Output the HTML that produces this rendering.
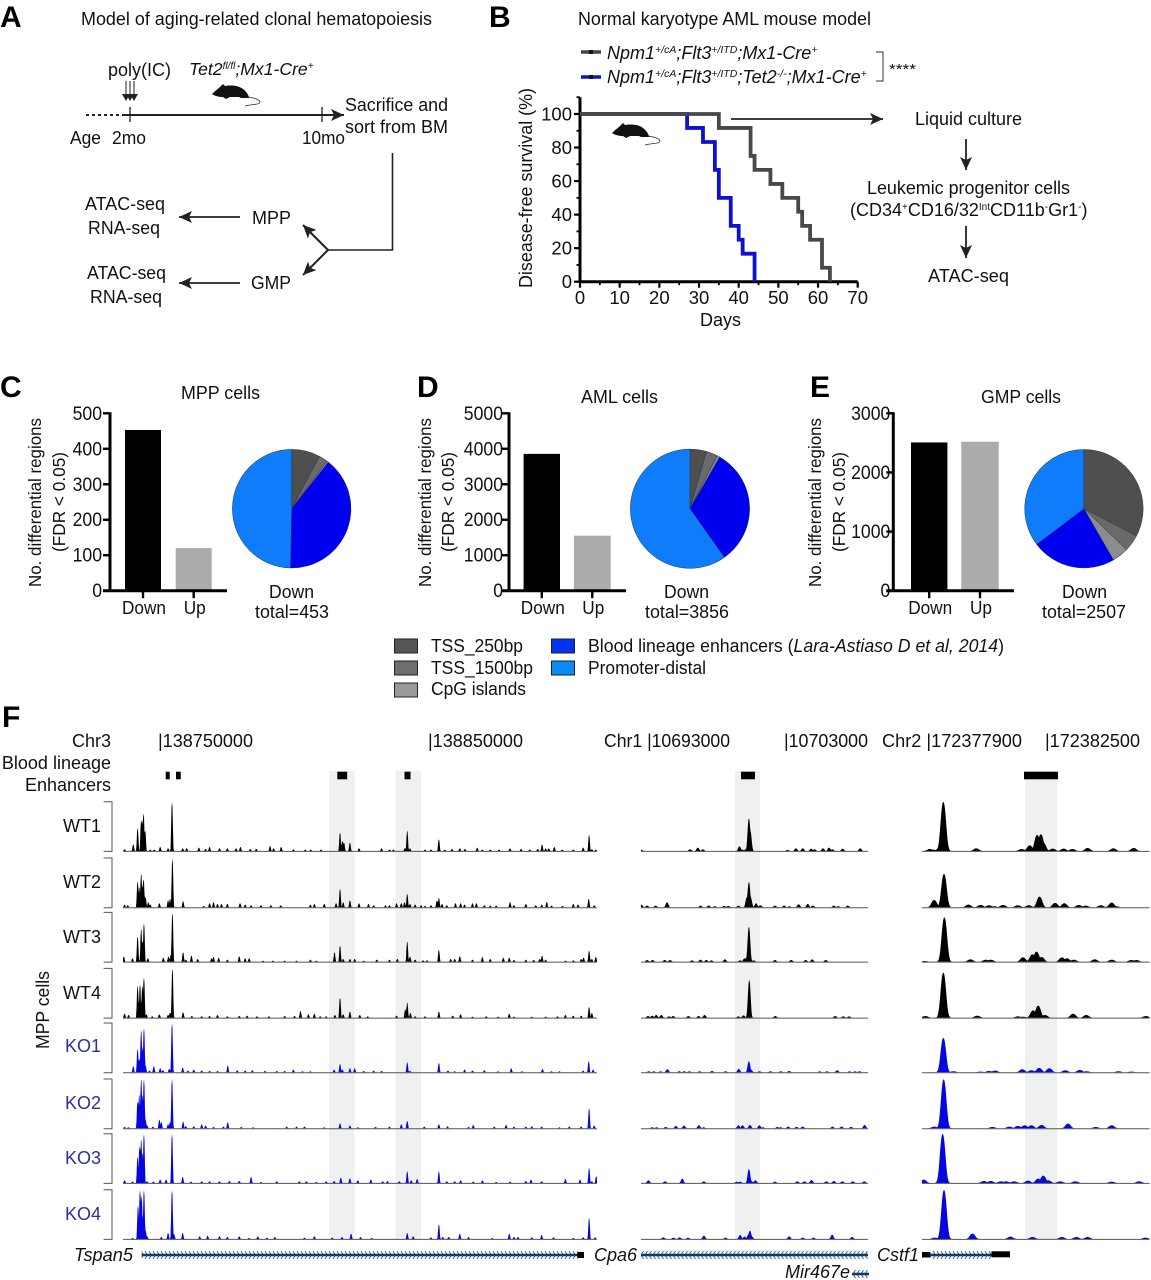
<!DOCTYPE html>
<html lang="en">
<head>
<meta charset="utf-8">
<title>Aging-related clonal hematopoiesis figure</title>
<style>
html,body{margin:0;padding:0;background:#fff;}
svg{display:block;}
text{font-family:"Liberation Sans",sans-serif;font-size:18px;fill:#111;}
.letter{font-size:30px;font-weight:bold;fill:#000;}
.it{font-style:italic;}
.ko{fill:#2e3192;}
</style>
</head>
<body>
<svg id="fig" xmlns="http://www.w3.org/2000/svg" width="1151" height="1280" viewBox="0 0 1151 1280">
<defs>
<g id="mouse-shape">
<path fill="#111" d="M0 11C3 8 6 6 9 3L11 1L13 3C18 2 26 2 31 6C35 9 37 13 37 15L29 15L27 14L18 14L14 16L11 14C7 14 3 13 0 11Z"/>
<path fill="none" stroke="#222" stroke-width=".7" d="M36 14C42 15 47 16 48 19C48 22 40 21 33 23"/>
</g>
<marker id="head" markerWidth="14" markerHeight="12" refX="13" refY="6" orient="auto" markerUnits="userSpaceOnUse"><path d="M0 0L13 6L0 12L3 6Z" fill="#222"/></marker>
<pattern id="chev-right" patternUnits="userSpaceOnUse" width="4" height="8" y="1251"><path d="M1 0L3.5 4L1 8" fill="none" stroke="#2f6f9f" stroke-width="1"/></pattern>
<pattern id="chev-left" patternUnits="userSpaceOnUse" width="4" height="8" y="1251"><path d="M3.5 0L1 4L3.5 8" fill="none" stroke="#2f6f9f" stroke-width="1"/></pattern>
<pattern id="chev-left-2" patternUnits="userSpaceOnUse" width="4" height="8" y="1270"><path d="M3.5 0L1 4L3.5 8" fill="none" stroke="#2f6f9f" stroke-width="1"/></pattern>
</defs>

<!-- Panel letters -->
<text class="letter" x="0" y="27">A</text>
<text class="letter" x="489" y="27">B</text>
<text class="letter" x="0" y="397">C</text>
<text class="letter" x="417" y="397">D</text>
<text class="letter" x="810" y="397">E</text>
<text class="letter" x="2" y="727">F</text>

<!-- Panel A -->
<g>
<text x="81" y="25" textLength="351" lengthAdjust="spacingAndGlyphs">Model of aging-related clonal hematopoiesis</text>
<text x="108" y="76" textLength="63" lengthAdjust="spacingAndGlyphs">poly(IC)</text>
<text class="it" x="189" y="75" style="font-size:17.600px">Tet2<tspan dy="-6" style="font-size:10px">fl/fl</tspan><tspan dy="6">;Mx1-Cre</tspan><tspan dy="-6" style="font-size:10px">+</tspan></text>
<g stroke="#222" stroke-width="1">
<path d="M126 81V97M130 81V97M134 81V97"/>
<path d="M122 94L126 101L130 94ZM126 94L130 101L134 94ZM130 94L134 101L138 94Z" fill="#222" stroke="none"/>
</g>
<use href="#mouse-shape" x="212" y="83"/>
<path d="M86 115H125" stroke="#222" stroke-width="2" stroke-dasharray="3 3" fill="none"/>
<path d="M125 115H344" stroke="#222" stroke-width="2" fill="none" marker-end="url(#head)"/>
<path d="M130 107V122M322 107V122" stroke="#222" stroke-width="1.3"/>
<text x="70" y="144" textLength="31" lengthAdjust="spacingAndGlyphs">Age</text>
<text x="112" y="144" textLength="34" lengthAdjust="spacingAndGlyphs">2mo</text>
<text x="302" y="144" textLength="43" lengthAdjust="spacingAndGlyphs">10mo</text>
<text x="345" y="111" textLength="103" lengthAdjust="spacingAndGlyphs">Sacrifice and</text>
<text x="345" y="133" textLength="103" lengthAdjust="spacingAndGlyphs">sort from BM</text>
<path d="M392.500 153V250H328" fill="none" stroke="#222" stroke-width="1.600"/>
<path d="M328 250L303 225" fill="none" stroke="#222" stroke-width="2" marker-end="url(#head)"/>
<path d="M328 250L303 275" fill="none" stroke="#222" stroke-width="2" marker-end="url(#head)"/>
<text x="252" y="224" textLength="39" lengthAdjust="spacingAndGlyphs">MPP</text>
<text x="251" y="289" textLength="40" lengthAdjust="spacingAndGlyphs">GMP</text>
<path d="M240 217H179" fill="none" stroke="#222" stroke-width="1.800" marker-end="url(#head)"/>
<path d="M240 283H179" fill="none" stroke="#222" stroke-width="1.800" marker-end="url(#head)"/>
<text x="85" y="210" textLength="80" lengthAdjust="spacingAndGlyphs">ATAC-seq</text>
<text x="88" y="234" textLength="72" lengthAdjust="spacingAndGlyphs">RNA-seq</text>
<text x="87" y="279" textLength="79" lengthAdjust="spacingAndGlyphs">ATAC-seq</text>
<text x="90" y="303" textLength="72" lengthAdjust="spacingAndGlyphs">RNA-seq</text>
</g>

<!-- Panel B static -->
<g>
<text x="578" y="25" textLength="293" lengthAdjust="spacingAndGlyphs">Normal karyotype AML mouse model</text>
<path d="M581 52H601" stroke="#444" stroke-width="3.500"/>
<rect x="589" y="50" width="4" height="4" fill="#111"/>
<text class="it" x="607" y="59">Npm1<tspan dy="-6" style="font-size:10.500px">+/cA</tspan><tspan dy="6">;Flt3</tspan><tspan dy="-6" style="font-size:10.500px">+/ITD</tspan><tspan dy="6">;Mx1-Cre</tspan><tspan dy="-6" style="font-size:10.500px">+</tspan></text>
<path d="M581 77H601" stroke="#1010d0" stroke-width="3.500"/>
<rect x="589" y="75" width="4" height="4" fill="#111"/>
<text class="it" x="607" y="83">Npm1<tspan dy="-6" style="font-size:10.500px">+/cA</tspan><tspan dy="6">;Flt3</tspan><tspan dy="-6" style="font-size:10.500px">+/ITD</tspan><tspan dy="6">;Tet2</tspan><tspan dy="-6" style="font-size:10.500px">-/-</tspan><tspan dy="6">;Mx1-Cre</tspan><tspan dy="-6" style="font-size:10.500px">+</tspan></text>
<path d="M876 52H883V81H876" fill="none" stroke="#333" stroke-width="1"/>
<text x="889" y="74" textLength="27" lengthAdjust="spacingAndGlyphs" style="font-size:15px">****</text>
<use href="#mouse-shape" x="612" y="122"/>
<path d="M731 119H883" fill="none" stroke="#222" stroke-width="1.800" marker-end="url(#head)"/>
<text x="915" y="125" textLength="107" lengthAdjust="spacingAndGlyphs">Liquid culture</text>
<path d="M966 139V170" fill="none" stroke="#222" stroke-width="1.800" marker-end="url(#head)"/>
<text x="867" y="194" textLength="203" lengthAdjust="spacingAndGlyphs">Leukemic progenitor cells</text>
<text x="850" y="216" style="font-size:18px">(CD34<tspan dy="-6" style="font-size:10px">+</tspan><tspan dy="6">CD16/32</tspan><tspan dy="-6" style="font-size:10px">Int</tspan><tspan dy="6">CD11b</tspan><tspan dy="-6" style="font-size:10px">-</tspan><tspan dy="6">Gr1</tspan><tspan dy="-6" style="font-size:10px">-</tspan><tspan dy="6">)</tspan></text>
<path d="M966 226V258" fill="none" stroke="#222" stroke-width="1.800" marker-end="url(#head)"/>
<text x="928" y="282" textLength="81" lengthAdjust="spacingAndGlyphs">ATAC-seq</text>
<text transform="translate(532,288) rotate(-90)" textLength="200" lengthAdjust="spacingAndGlyphs">Disease-free survival (%)</text>
<text x="700" y="326" textLength="41" lengthAdjust="spacingAndGlyphs">Days</text>
</g>
<g id="km"></g>

<!-- Panels C D E static -->
<g>
<text x="181" y="399" textLength="79" lengthAdjust="spacingAndGlyphs">MPP cells</text>
<text x="581" y="403" textLength="77" lengthAdjust="spacingAndGlyphs">AML cells</text>
<text x="981" y="403" textLength="80" lengthAdjust="spacingAndGlyphs">GMP cells</text>
<text transform="translate(41,587) rotate(-90)" textLength="169" lengthAdjust="spacingAndGlyphs" style="font-size:17.500px">No. differential regions</text>
<text transform="translate(65,552) rotate(-90)" textLength="100" lengthAdjust="spacingAndGlyphs" style="font-size:17.500px">(FDR &lt; 0.05)</text>
<text transform="translate(431,587) rotate(-90)" textLength="169" lengthAdjust="spacingAndGlyphs" style="font-size:17.500px">No. differential regions</text>
<text transform="translate(454,552) rotate(-90)" textLength="100" lengthAdjust="spacingAndGlyphs" style="font-size:17.500px">(FDR &lt; 0.05)</text>
<text transform="translate(821,587) rotate(-90)" textLength="169" lengthAdjust="spacingAndGlyphs" style="font-size:17.500px">No. differential regions</text>
<text transform="translate(845,552) rotate(-90)" textLength="100" lengthAdjust="spacingAndGlyphs" style="font-size:17.500px">(FDR &lt; 0.05)</text>
<text x="269" y="598" textLength="45" lengthAdjust="spacingAndGlyphs">Down</text>
<text x="255" y="618" textLength="74" lengthAdjust="spacingAndGlyphs">total=453</text>
<text x="664" y="598" textLength="45" lengthAdjust="spacingAndGlyphs">Down</text>
<text x="645" y="618" textLength="84" lengthAdjust="spacingAndGlyphs">total=3856</text>
<text x="1062" y="598" textLength="45" lengthAdjust="spacingAndGlyphs">Down</text>
<text x="1042" y="618" textLength="84" lengthAdjust="spacingAndGlyphs">total=2507</text>
</g>
<g id="bars"></g>
<g id="pies"></g>
<g id="legend">
<rect x="394.500" y="639" width="23" height="14" fill="#555" stroke="#222"/>
<text x="431" y="652" textLength="92" lengthAdjust="spacingAndGlyphs">TSS_250bp</text>
<rect x="394.500" y="661" width="23" height="14" fill="#6f6f6f" stroke="#222"/>
<text x="431" y="674" textLength="102" lengthAdjust="spacingAndGlyphs">TSS_1500bp</text>
<rect x="394.500" y="683" width="23" height="14" fill="#999" stroke="#222"/>
<text x="431" y="695" textLength="95" lengthAdjust="spacingAndGlyphs">CpG islands</text>
<rect x="551.500" y="639" width="23" height="14" fill="#0433f0" stroke="#123"/>
<text x="588" y="652" textLength="416" lengthAdjust="spacingAndGlyphs">Blood lineage enhancers (<tspan class="it">Lara-Astiaso D et al, 2014</tspan>)</text>
<rect x="551.500" y="661" width="23" height="14" fill="#0d8bf5" stroke="#123"/>
<text x="588" y="674" textLength="118" lengthAdjust="spacingAndGlyphs">Promoter-distal</text>
</g>

<!-- Panel F bands -->
<g fill="#eff1f0">
<rect x="329" y="771" width="25.500" height="469"/>
<rect x="395.400" y="771" width="25.600" height="469"/>
<rect x="735" y="771" width="25" height="469"/>
<rect x="1025" y="771" width="32" height="469"/>
</g>
<g fill="#000">
<rect x="165.700" y="771.700" width="4" height="7.600"/>
<rect x="176" y="771.700" width="4.700" height="7.600"/>
<rect x="337.300" y="771.700" width="9.900" height="7.600"/>
<rect x="404.500" y="771.700" width="6" height="7.600"/>
<rect x="741" y="771.700" width="14" height="7.600"/>
<rect x="1024" y="771.700" width="34" height="7.600"/>
</g>
<g>
<text x="111" y="747" text-anchor="end">Chr3</text>
<text x="158" y="747" textLength="95" lengthAdjust="spacingAndGlyphs">|138750000</text>
<text x="428" y="747" textLength="95" lengthAdjust="spacingAndGlyphs">|138850000</text>
<text x="604" y="747" textLength="126" lengthAdjust="spacingAndGlyphs">Chr1 |10693000</text>
<text x="784" y="747" textLength="84" lengthAdjust="spacingAndGlyphs">|10703000</text>
<text x="882" y="747" textLength="140" lengthAdjust="spacingAndGlyphs">Chr2 |172377900</text>
<text x="1045" y="747" textLength="95" lengthAdjust="spacingAndGlyphs">|172382500</text>
<text x="111" y="769" text-anchor="end">Blood lineage</text>
<text x="111" y="791" text-anchor="end">Enhancers</text>
<text transform="translate(49,1049) rotate(-90)" textLength="78" lengthAdjust="spacingAndGlyphs">MPP cells</text>
</g>
<g id="tracks"></g>
<g>
<text class="it" x="74" y="1261" textLength="59" lengthAdjust="spacingAndGlyphs">Tspan5</text>
<rect x="141.600" y="1251" width="436" height="8" fill="url(#chev-right)"/>
<path d="M141.600 1255H578" stroke="#14365f" stroke-width="2.400"/>
<rect x="577.300" y="1252" width="6.700" height="6" fill="#000"/>
<text class="it" x="594" y="1261" textLength="43" lengthAdjust="spacingAndGlyphs">Cpa6</text>
<rect x="641" y="1251" width="227" height="8" fill="url(#chev-left)"/>
<path d="M641 1255H868" stroke="#14365f" stroke-width="2.400"/>
<text class="it" x="785" y="1278" textLength="65" lengthAdjust="spacingAndGlyphs">Mir467e</text>
<rect x="852" y="1270" width="17" height="8" fill="url(#chev-left-2)"/>
<path d="M852 1274H869" stroke="#14365f" stroke-width="2.400"/>
<text class="it" x="877" y="1261" textLength="42" lengthAdjust="spacingAndGlyphs">Cstf1</text>
<rect x="922" y="1252" width="8" height="5.500" fill="#000"/>
<rect x="930" y="1251" width="62" height="8" fill="url(#chev-right)"/>
<path d="M930 1255H992" stroke="#14365f" stroke-width="2.400"/>
<rect x="991.500" y="1251.300" width="18.500" height="6" fill="#000"/>
</g>
</svg>

<script>
/* ---------- survival data ---------- */
const kmControlDays = [0,35,43,44,48,51,55,56,58,61,63];
const kmControlSurvival = [100,91.7,75,66.7,58.3,50,41.7,33.3,25,8.3,0];
const kmKoDays = [0,27,31,34,35,38,40,41,44];
const kmKoSurvival = [100,91.7,83.3,66.7,50,33.3,25,16.7,0];
const kmXTicks = [0,10,20,30,40,50,60,70];
const kmYTicks = [0,20,40,60,80,100];

/* ---------- bar data ---------- */
const barCategories = ['Down','Up'];
const mppBarValues = [453,120];
const amlBarValues = [3856,1550];
const gmpBarValues = [2507,2520];
const mppTicks = [0,100,200,300,400,500];
const amlTicks = [0,1000,2000,3000,4000,5000];
const gmpTicks = [0,1000,2000,3000];

/* ---------- pie data: TSS_250bp, TSS_1500bp, CpG, enhancers, distal ---------- */
const pieCategories = ['tss250','tss1500','cpg','enhancers','distal'];
const mppPieValues = [35,11,2,180,225];
const amlPieValues = [172,120,28,1230,2306];
const gmpPieValues = [817,115,113,577,885];

/* ---------- track signals: [genomic bin, signal] ---------- */
const wt1Tspan5 = [[315,5],[337,20],[348,68],[357,92],[360,85],[363,113],[367,60],[380,4],[390,4],[405,12],[425,8],[435,147],[462,8],[472,8],[503,10],[520,6],[530,12],[555,8],[575,8],[597,8],[608,12],[633,6],[648,6],[683,15],[692,8],[711,12],[742,5],[772,4],[786,4],[812,4],[860,55],[866,30],[870,25],[885,25],[908,8],[965,8],[985,4],[995,4],[1024,8],[1030,60],[1037,8],[1075,4],[1090,4],[1110,35],[1125,4],[1143,6],[1163,8],[1176,6],[1207,10],[1220,4],[1240,4],[1262,4],[1290,8],[1318,6],[1340,4],[1360,6],[1371,20],[1380,8],[1388,8],[1402,12],[1422,4],[1450,4],[1475,10],[1490,48],[1497,5],[1507,4]];
const wt2Tspan5 = [[315,8],[323,6],[348,77],[352,60],[357,100],[360,60],[363,84],[368,30],[375,15],[380,8],[403,12],[425,20],[430,25],[436,145],[463,18],[515,4],[530,12],[540,15],[550,10],[560,10],[575,10],[607,12],[620,8],[635,6],[660,6],[685,6],[710,6],[785,8],[795,10],[820,10],[850,12],[860,55],[868,15],[885,20],[908,12],[932,10],[945,6],[975,6],[985,6],[1003,12],[1015,12],[1023,15],[1030,40],[1037,10],[1050,8],[1065,6],[1075,4],[1090,6],[1105,20],[1110,28],[1118,10],[1130,6],[1152,12],[1165,12],[1175,8],[1195,12],[1205,12],[1225,6],[1240,5],[1255,5],[1290,15],[1300,6],[1330,10],[1355,6],[1370,8],[1383,16],[1395,5],[1423,4],[1450,10],[1462,8],[1489,25],[1503,6]];
const wt3Tspan5 = [[313,15],[335,10],[348,75],[357,98],[360,60],[364,115],[374,10],[413,12],[426,15],[432,20],[436,146],[463,28],[470,6],[484,18],[500,8],[535,10],[540,14],[553,12],[575,6],[605,16],[620,10],[630,10],[665,3],[690,3],[720,3],[750,3],[785,6],[800,3],[846,28],[860,48],[868,8],[885,8],[897,8],[920,3],[953,6],[985,6],[1005,8],[1030,60],[1037,15],[1050,6],[1070,4],[1080,4],[1110,35],[1140,8],[1150,8],[1163,16],[1195,6],[1220,14],[1240,8],[1273,12],[1288,12],[1300,5],[1330,6],[1350,5],[1365,8],[1371,18],[1380,6],[1430,3],[1450,4],[1470,8],[1476,12],[1490,33],[1497,8],[1507,14]];
const wt4Tspan5 = [[315,12],[325,8],[348,95],[354,100],[360,95],[364,120],[370,10],[385,4],[403,10],[425,8],[430,15],[436,147],[463,16],[485,5],[510,4],[530,5],[550,8],[575,4],[605,5],[625,6],[650,4],[680,4],[720,5],[745,5],[760,20],[780,10],[795,12],[810,4],[825,4],[847,8],[860,60],[868,10],[885,18],[910,8],[930,4],[1003,6],[1025,25],[1030,45],[1038,14],[1050,4],[1075,4],[1110,18],[1145,6],[1165,10],[1195,3],[1230,4],[1260,3],[1288,12],[1300,3],[1345,3],[1380,3],[1410,4],[1430,8],[1450,6],[1470,6],[1490,32],[1497,14]];
const ko1Tspan5 = [[337,18],[348,70],[353,40],[357,125],[360,70],[364,132],[368,20],[378,5],[389,18],[405,12],[412,6],[428,10],[435,147],[462,14],[475,5],[490,8],[510,5],[530,4],[550,4],[576,20],[600,6],[620,5],[638,6],[670,4],[700,4],[720,4],[742,8],[765,3],[785,3],[845,8],[860,25],[866,8],[885,12],[897,12],[920,4],[945,5],[965,4],[1030,30],[1037,4],[1110,28],[1133,5],[1150,3],[1175,8],[1195,5],[1225,6],[1260,3],[1293,12],[1320,3],[1372,10],[1395,3],[1415,3],[1475,5],[1489,33],[1500,8]];
const ko2Tspan5 = [[315,4],[325,3],[348,80],[352,100],[357,147],[360,100],[364,147],[368,25],[372,8],[387,5],[403,26],[408,18],[425,12],[430,18],[435,147],[463,20],[470,6],[490,6],[510,12],[520,8],[540,4],[565,5],[576,18],[610,4],[640,3],[725,5],[750,5],[770,5],[820,3],[860,15],[885,8],[905,3],[950,4],[985,5],[1015,12],[1030,22],[1073,5],[1110,12],[1132,6],[1185,4],[1197,10],[1250,5],[1280,10],[1300,5],[1330,5],[1345,6],[1370,5],[1415,3],[1440,5],[1470,5],[1490,60],[1503,8]];
const ko3Tspan5 = [[315,8],[335,4],[348,78],[353,110],[357,130],[360,90],[364,147],[372,5],[388,4],[405,10],[420,10],[435,147],[462,18],[483,4],[510,5],[530,5],[555,5],[580,6],[605,6],[635,18],[660,3],[700,5],[757,5],[775,5],[800,3],[825,5],[845,6],[862,16],[885,14],[905,8],[938,10],[968,5],[980,6],[1010,5],[1030,35],[1040,8],[1055,12],[1110,35],[1130,5],[1150,5],[1165,8],[1197,4],[1220,8],[1255,3],[1290,4],[1330,6],[1343,10],[1370,5],[1430,12],[1467,10],[1490,45],[1497,5],[1508,20]];
const ko4Tspan5 = [[335,3],[349,100],[354,147],[358,130],[364,147],[368,25],[372,8],[408,6],[425,18],[435,147],[440,15],[462,18],[505,8],[525,10],[555,8],[575,6],[605,8],[630,3],[652,8],[675,4],[695,6],[770,4],[795,8],[840,4],[865,6],[888,16],[912,6],[940,3],[1030,18],[1045,8],[1090,5],[1110,44],[1120,6],[1135,6],[1163,16],[1185,6],[1245,3],[1288,16],[1300,6],[1310,6],[1345,5],[1370,12],[1400,5],[1450,3],[1475,5],[1490,63],[1505,5]];

const wt1Cpa6 = [[62,4],[207,5],[230,10],[245,5],[353,14],[362,4],[372,5],[381,98],[385,60],[495,3],[520,8],[540,8],[565,7],[575,5],[600,8],[618,10],[628,5],[658,7],[710,8]];
const wt2Cpa6 = [[63,8],[80,5],[105,5],[139,15],[238,5],[262,5],[280,3],[308,4],[320,4],[350,5],[375,30],[381,76],[386,30],[402,12],[415,6],[458,5],[485,5],[500,3],[528,9],[555,10],[570,5],[632,5],[645,3],[673,5]];
const wt3Cpa6 = [[80,5],[96,5],[132,5],[148,5],[213,4],[238,6],[255,5],[270,4],[310,7],[355,4],[368,10],[376,16],[381,105],[395,4],[458,5],[506,5],[549,5],[568,7],[608,5]];
const wt4Cpa6 = [[83,5],[95,6],[107,8],[122,8],[145,4],[157,5],[202,5],[232,5],[250,8],[350,4],[365,7],[382,113],[459,5],[636,5],[660,4],[677,4]];
const ko1Cpa6 = [[85,3],[100,3],[120,3],[140,9],[175,3],[190,3],[205,3],[235,3],[272,4],[312,3],[351,10],[381,33],[387,8],[412,3],[445,3],[475,3],[500,4],[590,3],[612,3],[642,6],[678,3],[695,3],[708,3]];
const ko2Cpa6 = [[95,3],[108,3],[135,4],[165,7],[189,8],[233,9],[247,3],[350,9],[362,9],[384,10],[412,9],[423,3],[465,4],[475,3],[497,5],[522,4],[540,5],[628,5],[655,5],[683,4],[723,10]];
const ko3Cpa6 = [[84,8],[133,5],[184,13],[248,5],[345,4],[355,4],[381,42],[388,6],[400,8],[458,4],[524,5],[545,5],[566,9],[610,5],[632,6],[657,5],[688,5],[722,5]];
const ko4Cpa6 = [[128,5],[158,4],[176,5],[201,4],[248,10],[312,4],[355,12],[368,7],[380,14],[384,25],[389,8],[500,8],[540,4],[572,4],[627,13],[686,6]];

const wt1Cstf1 = [[915,6],[925,4],[945,12],[955,147],[1052,8],[1186,6],[1210,17],[1232,48],[1243,50],[1250,25],[1278,7],[1310,7],[1336,6],[1381,9],[1457,8],[1517,9]];
const wt2Cstf1 = [[928,22],[957,100],[1029,8],[1065,7],[1090,6],[1105,3],[1131,7],[1175,6],[1207,6],[1239,32],[1285,13],[1312,12],[1355,7],[1375,5],[1420,6],[1452,14],[1465,3]];
const wt3Cstf1 = [[900,2],[958,133],[1035,7],[1080,6],[1095,6],[1190,13],[1218,22],[1230,30],[1245,14],[1305,13],[1320,10],[1340,6],[1402,7],[1452,6],[1510,5],[1525,5]];
const wt4Cstf1 = [[902,5],[955,135],[1055,6],[1175,4],[1190,3],[1220,22],[1235,36],[1255,8],[1338,12],[1377,8],[1553,5]];
const ko1Cstf1 = [[955,103],[985,3],[1065,2],[1090,4],[1108,5],[1188,9],[1215,6],[1238,13],[1268,12],[1315,6],[1358,7],[1378,3],[1472,3],[1510,2]];
const ko2Cstf1 = [[928,5],[956,147],[1100,4],[1150,5],[1175,7],[1195,9],[1215,9],[1245,10],[1323,14],[1405,4],[1452,9]];
const ko3Cstf1 = [[897,10],[953,147],[1075,6],[1095,6],[1125,5],[1140,5],[1164,5],[1205,7],[1235,13],[1250,22],[1265,8],[1300,5],[1345,5],[1452,4],[1533,5]];
const ko4Cstf1 = [[930,4],[957,147],[1041,16],[1153,7],[1218,6],[1305,6],[1348,6],[1381,6],[1552,4]];

const trackNames = ['WT1','WT2','WT3','WT4','KO1','KO2','KO3','KO4'];
const tspan5Tracks = [wt1Tspan5,wt2Tspan5,wt3Tspan5,wt4Tspan5,ko1Tspan5,ko2Tspan5,ko3Tspan5,ko4Tspan5];
const cpa6Tracks = [wt1Cpa6,wt2Cpa6,wt3Cpa6,wt4Cpa6,ko1Cpa6,ko2Cpa6,ko3Cpa6,ko4Cpa6];
const cstf1Tracks = [wt1Cstf1,wt2Cstf1,wt3Cstf1,wt4Cstf1,ko1Cstf1,ko2Cstf1,ko3Cstf1,ko4Cstf1];

/* ---------- helpers ---------- */
const NS = 'http://www.w3.org/2000/svg';
function make(tag, attrs, parent) {
  const e = document.createElementNS(NS, tag);
  for (const k in attrs) e.setAttribute(k, attrs[k]);
  parent.appendChild(e);
  return e;
}

/* ---------- survival chart ---------- */
(function () {
  const g = document.getElementById('km');
  const x = d => 580 + d * 277.7 / 70;
  const y = s => 281.7 - s * 167.7 / 100;
  const line = (d, w) => make('path', {d: d, stroke: '#000', 'stroke-width': w, fill: 'none'}, g);

  const yAxis = line('M' + x(0) + ' ' + y(110) + 'V' + y(0), 3);
  
  
  const xAxis = line('M' + (x(0) - 1) + ' ' + y(0) + 'H' + x(70), 3);
  
  

  kmXTicks.forEach((t, i) => {
    const tick = line('M' + x(t) + ' ' + y(0) + 'v6', 2.2);
    
    
    if (i < kmXTicks.length - 1) {
      const minor = line('M' + x(t + 5) + ' ' + y(0) + 'v3.500', 1.8);
      
      
    }
    const label = make('text', {x: x(t), y: 304, 'text-anchor': 'middle', style: 'font-size:18.5px'}, g);
    label.textContent = t;
    
    
  });
  kmYTicks.forEach(t => {
    const tick = line('M' + x(0) + ' ' + y(t) + 'h-6', 2.2);
    
    
    const minor = line('M' + x(0) + ' ' + y(t + 10) + 'h-3.500', 1.8);
    
    
    const label = make('text', {x: 572, y: y(t) + 6.5, 'text-anchor': 'end', style: 'font-size:18.5px'}, g);
    label.textContent = t;
    
    
  });

  const stepPath = (days, surv) => {
    let d = 'M' + x(days[0]) + ' ' + y(surv[0]);
    for (let i = 1; i < days.length; i++) d += 'H' + x(days[i]) + 'V' + y(surv[i]);
    return d;
  };
  const ko = make('path', {d: stepPath(kmKoDays, kmKoSurvival), fill: 'none', stroke: '#1010d0', 'stroke-width': 3.8}, g);
  
  
  const ctl = make('path', {d: stepPath(kmControlDays, kmControlSurvival), fill: 'none', stroke: '#484848', 'stroke-width': 3.8}, g);
  
  
})();

/* ---------- bar charts ---------- */
function drawBars(prefix, values, ticks, axisX, axisEnd, barSpans, labelGap) {
  const g = document.getElementById('bars');
  const top = 413.3, bottom = 590.7;
  const max = ticks[ticks.length - 1];
  const y = v => bottom - v / max * (bottom - top);
  const yAxis = make('path', {d: 'M' + axisX + ' ' + (top - 1) + 'V' + (bottom + 1), stroke: '#000', 'stroke-width': 3, fill: 'none'}, g);
  
  
  ticks.forEach(t => {
    const tick = make('path', {d: 'M' + axisX + ' ' + y(t) + 'h-7', stroke: '#000', 'stroke-width': 2.4}, g);
    
    
    const lab = make('text', {x: axisX - labelGap, y: y(t) + 6.5, 'text-anchor': 'end', textLength: String(t).length * 9.8, lengthAdjust: 'spacingAndGlyphs', style: 'font-size:19px'}, g);
    lab.textContent = t;
    
    
  });
  values.forEach((v, i) => {
    const s = barSpans[i];
    const bar = make('rect', {x: s[0], y: y(v), width: s[1] - s[0], height: bottom - y(v), fill: i === 0 ? '#000' : '#ababad'}, g);
    
    
    const c = (s[0] + s[1]) / 2;
    const tick = make('path', {d: 'M' + c + ' ' + bottom + 'v7.500', stroke: '#000', 'stroke-width': 2.4}, g);
    
    
    const lab = make('text', {x: c + 1, y: 614, 'text-anchor': 'middle', textLength: i === 0 ? 44 : 22, lengthAdjust: 'spacingAndGlyphs'}, g);
    lab.textContent = barCategories[i];
    
    
  });
  const xAxis = make('path', {d: 'M' + (axisX - 7) + ' ' + bottom + 'H' + axisEnd, stroke: '#000', 'stroke-width': 3, fill: 'none'}, g);
  
  
}
drawBars('mpp', mppBarValues, mppTicks, 110, 227, [[125, 161], [175.7, 211.7]], 8);
drawBars('aml', amlBarValues, amlTicks, 509, 626, [[523.6, 560], [573.9, 610.7]], 6);
drawBars('gmp', gmpBarValues, gmpTicks, 893.3, 1014, [[911, 947.4], [961.3, 998.7]], 3);

/* ---------- pies ---------- */
const pieColors = ['#4f4f4f', '#6a6a6a', '#8c8c8c', '#0000f0', '#0f7dfb'];
function drawPie(prefix, values, cx, cy, r) {
  const g = document.getElementById('pies');
  const total = values.reduce((a, b) => a + b, 0);
  let acc = 0;
  values.forEach((v, i) => {
    const a0 = acc / total * 2 * Math.PI;
    acc += v;
    const a1 = acc / total * 2 * Math.PI;
    const large = a1 - a0 > Math.PI ? 1 : 0;
    const d = 'M' + cx + ' ' + cy +
      'L' + (cx + r * Math.sin(a0)) + ' ' + (cy - r * Math.cos(a0)) +
      'A' + r + ' ' + r + ' 0 ' + large + ' 1 ' + (cx + r * Math.sin(a1)) + ' ' + (cy - r * Math.cos(a1)) + 'Z';
    const slice = make('path', {d: d, fill: pieColors[i], stroke: '#23324a', 'stroke-width': 0.5}, g);
    
    
  });
}
drawPie('mpp', mppPieValues, 291.7, 508.7, 59.3);
drawPie('aml', amlPieValues, 690, 508.7, 59.6);
drawPie('gmp', gmpPieValues, 1083.9, 508.7, 59.2);

/* ---------- signal tracks ---------- */
const trackBaselines = [851, 907.3, 961.7, 1017.7, 1072.3, 1128.3, 1183, 1239];
const trackLabelBaselines = [832, 888, 943, 999, 1052, 1109, 1164, 1220];
function drawRegion(prefix, tracks, binStart, binEnd, x0, x1, sigma, power) {
  const g = document.getElementById('tracks');
  const xs = b => x0 + (b - binStart) / (binEnd - binStart) * (x1 - x0);
  const ys = (base, v) => base - v / 3;
  const step = (binEnd - binStart) / ((x1 - x0) * 2);
  tracks.forEach((peaks, i) => {
    const base = trackBaselines[i];
    let d = 'M' + x0 + ' ' + base;
    for (let b = binStart; b <= binEnd + 1e-6; b += step) {
      let v = 0;
      for (const p of peaks) {
        const t = Math.abs(b - p[0]) / sigma;
        if (t < 4) v = Math.max(v, p[1] * Math.exp(-Math.pow(t, power) / 2));
      }
      if (v < 0.6) v = 0;
      d += 'L' + xs(b).toFixed(2) + ' ' + ys(base, v).toFixed(2);
    }
    d += 'L' + x1 + ' ' + base + 'Z';
    const isKo = trackNames[i].startsWith('KO');
    const area = make('path', {d: d, fill: isKo ? '#0606e0' : '#000'}, g);
    
    
    const bl = make('path', {d: 'M' + x0 + ' ' + (base + 0.4) + 'H' + x1, stroke: '#555', 'stroke-width': 1, fill: 'none'}, g);
    
    
  });
}
drawRegion('tspan5', tspan5Tracks, 311, 1510, 123, 597, 2.1, 3);
drawRegion('cpa6', cpa6Tracks, 62, 733, 641, 868, 4, 2.4);
drawRegion('cstf1', cstf1Tracks, 892, 1564, 922, 1149.6, 8, 2.4);

(function () {
  const g = document.getElementById('tracks');
  trackNames.forEach((name, i) => {
    const base = trackBaselines[i];
    const br = make('path', {d: 'M103.6 ' + (base - 49.3) + 'H112V' + (base + 0.4) + 'H103.6', fill: 'none', stroke: '#555', 'stroke-width': 1}, g);
    
    
    const lab = make('text', {x: 101, y: trackLabelBaselines[i], 'text-anchor': 'end', class: name.startsWith('KO') ? 'ko' : ''}, g);
    lab.textContent = name;
    
    
  });
})();
</script>
</body>
</html>
